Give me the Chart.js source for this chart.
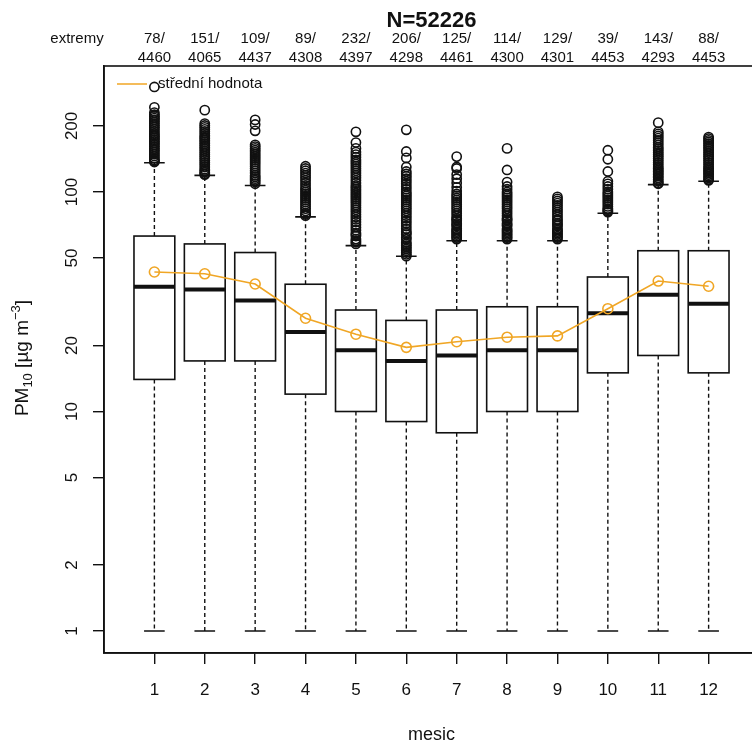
<!DOCTYPE html>
<html>
<head>
<meta charset="utf-8">
<script src="https://cdn.jsdelivr.net/npm/chart.js@4.4.1/dist/chart.umd.min.js"></script>
<style>
html,body{margin:0;padding:0;overflow:hidden;background:#fff}
canvas{display:block}
</style>
</head>
<body>
<canvas id="chart" width="780" height="745"></canvas>
<script>
const months = [1,2,3,4,5,6,7,8,9,10,11,12];
const q1 = [14,17,17,12,10,9,8,10,10,15,18,15];
const medians = [37,36,32,23,19,17,18,19,19,28,34,31];
const q3 = [63,58,53,38,29,26,29,30,30,41,54,54];
const whiskerLow = [1,1,1,1,1,1,1,1,1,1,1,1];
const whiskerHigh = [136,119,107,77,57,51,60,60,60,80,108,112];
const means = [43.2,42.4,38.1,26.6,22.5,19.6,20.8,21.8,22.1,29.4,39.3,37.2];
const extremes = [78,151,109,89,232,206,125,114,129,39,143,88];
const totals = [4460,4065,4437,4308,4397,4298,4461,4300,4301,4453,4293,4453];
const yTicks = [1,2,5,10,20,50,100,200];
const outliers = [
  [301,243,230,225,221,217,213,209,205,201,197,193,189,185,182,179,176,173,170,167,164,161,158,155,152,149,146,143,140,138,137],
  [236,205,201,197,193,189,185,181,178,175,172,169,166,163,160,157,154,151,148,145,142,139,136,133,130,127,125,123,121,120],
  [213,203,190,164,161,158,155,152,149,146,143,140,137,134,131,128,125,122,119,117,115,113,111,109],
  [131,128,125,122,119,116,113,110,107,104,102,100,98,96,94,92,90,88,86,84,82,80,79,78],
  [188,168,158,152,148,144,140,137,134,131,128,125,122,119,116,113,110,107,105,103,101,99,97,95,93,91,89,87,85,83,81,79,77,75,73,71,69,67,65,64,63,61,60,59,58],
  [192,153,143,130,124,121,118,115,112,109,106,103,100,98,96,94,92,90,88,86,84,82,80,78,76,74,72,70,68,66,65,64,62,61,59,58,57,56,55,54,53,52,51],
  [145,130,128,120,115,110,105,101,98,96,94,92,90,88,86,84,82,80,78,76,75,74,72,71,70,68,67,66,65,64,63,62,61],
  [158,126,111,106,103,100,98,96,94,92,90,88,86,84,82,80,78,76,75,74,72,71,70,68,67,66,65,64,63,62,61],
  [95,93,91,89,87,85,83,81,79,77,75,74,72,71,70,68,67,66,65,64,63,62,61],
  [155,141,124,112,109,106,103,100,98,96,94,92,90,88,86,84,83,82,81],
  [207,188,184,180,176,172,168,164,160,157,154,151,148,145,142,139,136,133,130,128,126,124,122,120,118,116,114,112,110,109],
  [178,175,172,169,166,163,160,157,154,151,148,145,142,139,136,133,130,128,126,124,122,120,118,116,114,113]
];

const FONT = '"Liberation Sans", Arial, Helvetica, sans-serif';
const ORANGE = '#f0a625';
const INK = '#111';
const BOX_W = 0.81;
const CAP_W = 0.41;

const boxPlugin = {
  id: 'boxes',
  beforeDatasetsDraw(chart) {
    const {ctx, scales: {x, y}} = chart;
    ctx.save();
    ctx.strokeStyle = INK;
    months.forEach((m, i) => {
      const cx = x.getPixelForValue(m);
      const l = x.getPixelForValue(m - BOX_W / 2), r = x.getPixelForValue(m + BOX_W / 2);
      const cl = x.getPixelForValue(m - CAP_W / 2), cr = x.getPixelForValue(m + CAP_W / 2);
      const yq1 = y.getPixelForValue(q1[i]), yq3 = y.getPixelForValue(q3[i]);
      const ylo = y.getPixelForValue(whiskerLow[i]), yhi = y.getPixelForValue(whiskerHigh[i]);
      const ymed = y.getPixelForValue(medians[i]);
      // whiskers
      ctx.lineWidth = 1.4;
      ctx.setLineDash([4, 3]);
      ctx.beginPath();
      ctx.moveTo(cx, yq3); ctx.lineTo(cx, yhi);
      ctx.moveTo(cx, yq1); ctx.lineTo(cx, ylo);
      ctx.stroke();
      ctx.setLineDash([]);
      // caps
      ctx.lineWidth = 1.6;
      ctx.beginPath();
      ctx.moveTo(cl, yhi); ctx.lineTo(cr, yhi);
      ctx.moveTo(cl, ylo); ctx.lineTo(cr, ylo);
      ctx.stroke();
      // box
      ctx.fillStyle = '#fff';
      ctx.fillRect(l, yq3, r - l, yq1 - yq3);
      ctx.strokeRect(l, yq3, r - l, yq1 - yq3);
      // median
      ctx.lineWidth = 4;
      ctx.beginPath();
      ctx.moveTo(l, ymed); ctx.lineTo(r, ymed);
      ctx.stroke();
    });
    ctx.restore();
  },
  afterDraw(chart) {
    const {ctx, chartArea: a, scales: {x, y}} = chart;
    ctx.save();
    // frame
    ctx.strokeStyle = INK;
    ctx.lineWidth = 1.6;
    ctx.strokeRect(a.left, a.top, a.right - a.left, a.bottom - a.top);
    ctx.fillStyle = INK;
    // y tick labels (rotated, like R)
    ctx.font = `17px ${FONT}`;
    ctx.textAlign = 'center';
    ctx.textBaseline = 'alphabetic';
    yTicks.forEach(v => {
      const py = y.getPixelForValue(v);
      ctx.save();
      ctx.translate(65, py);
      ctx.rotate(-Math.PI / 2);
      ctx.fillText(String(v), 0, 12);
      ctx.restore();
    });
    // x tick labels
    months.forEach(m => ctx.fillText(String(m), x.getPixelForValue(m), 695));
    // title
    const cxp = (a.left + a.right) / 2;
    ctx.font = `bold 22px ${FONT}`;
    ctx.fillText('N=52226', cxp, 27);
    // extremes row
    ctx.font = `15px ${FONT}`;
    ctx.fillText('extremy', 77, 43);
    months.forEach((m, i) => {
      const px = x.getPixelForValue(m);
      ctx.fillText(extremes[i] + '/', px, 43);
      ctx.fillText(String(totals[i]), px, 61.5);
    });
    // x title
    ctx.font = `18px ${FONT}`;
    ctx.fillText('mesic', cxp, 740);
    // y title with sub/superscript
    ctx.save();
    ctx.translate(21, 358);
    ctx.rotate(-Math.PI / 2);
    ctx.textAlign = 'left';
    const parts = [['PM', 19, 0], ['10', 13, 4], [' [µg m', 19, 0], ['\u22123', 13, -8], [']', 19, 0]];
    let total = 0;
    parts.forEach(([t, s]) => { ctx.font = `${s}px ${FONT}`; total += ctx.measureText(t).width; });
    let xx = -total / 2;
    parts.forEach(([t, s, dy]) => {
      ctx.font = `${s}px ${FONT}`;
      ctx.fillText(t, xx, 7 + dy);
      xx += ctx.measureText(t).width;
    });
    ctx.restore();
    // legend
    ctx.strokeStyle = ORANGE;
    ctx.lineWidth = 1.5;
    ctx.beginPath();
    ctx.moveTo(117, 84); ctx.lineTo(147, 84);
    ctx.stroke();
    ctx.textAlign = 'left';
    ctx.font = `15px ${FONT}`;
    ctx.fillText('střední hodnota', 158, 88);
    ctx.restore();
  }
};

const outlierPoints = months.flatMap((m, i) => outliers[i].map(v => ({x: m, y: v})));
const meanPoints = months.map((m, i) => ({x: m, y: means[i]}));

new Chart(document.getElementById('chart'), {
  type: 'scatter',
  data: {
    datasets: [
      {
        type: 'line', label: 'střední hodnota', data: meanPoints,
        borderColor: ORANGE, borderWidth: 1.6, pointRadius: 5, pointBorderWidth: 1.6,
        pointBorderColor: ORANGE, pointBackgroundColor: 'rgba(0,0,0,0)', fill: false, tension: 0
      },
      {
        label: 'extremy', data: outlierPoints,
        pointRadius: 4.6, pointBorderWidth: 1.6, borderColor: INK, backgroundColor: 'rgba(0,0,0,0)'
      }
    ]
  },
  options: {
    responsive: false,
    animation: false,
    layout: { padding: { top: 66, right: 21, left: 0, bottom: 0 } },
    plugins: { legend: { display: false }, tooltip: { enabled: false } },
    scales: {
      x: {
        type: 'linear', min: 0, max: 13,
        afterBuildTicks: s => { s.ticks = months.map(v => ({value: v})); },
        afterFit: s => { s.height = 92; },
        grid: { drawOnChartArea: false, drawTicks: true, tickLength: 11, color: INK, lineWidth: 1.4 },
        border: { display: true, color: INK, width: 1.6 },
        ticks: { autoSkip: false, callback: () => '' }
      },
      y: {
        type: 'logarithmic', min: 0.794, max: 375,
        afterBuildTicks: s => { s.ticks = yTicks.map(v => ({value: v})); },
        afterFit: s => { s.width = 104; },
        grid: { drawOnChartArea: false, drawTicks: true, tickLength: 11, color: INK, lineWidth: 1.4 },
        border: { display: true, color: INK, width: 1.6 },
        ticks: { autoSkip: false, callback: () => '' }
      }
    }
  },
  plugins: [boxPlugin]
});
</script>
</body>
</html>
